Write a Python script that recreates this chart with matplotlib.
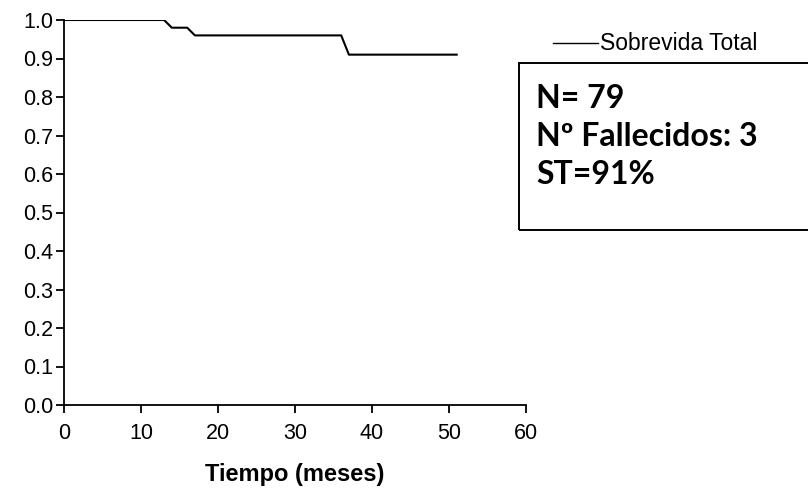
import matplotlib
matplotlib.use("Agg")
import matplotlib.pyplot as plt
from matplotlib.patches import Rectangle

# survival curve points (months, proportion)
months = [0, 13, 14, 16, 17, 36, 37, 51]
surv = [1.0, 1.0, 0.98, 0.98, 0.96, 0.96, 0.91, 0.91]
xticks = [0, 10, 20, 30, 40, 50, 60]
yticks = [0.0, 0.1, 0.2, 0.3, 0.4, 0.5, 0.6, 0.7, 0.8, 0.9, 1.0]
box_lines = ["N= 79", "Nº Fallecidos: 3", "ST=91%"]

sans = "Liberation Sans"

fig = plt.figure(figsize=(8.08, 5.0), dpi=100)
ax = fig.add_axes([64 / 808, 95 / 500, 462 / 808, 385 / 500])
ax.plot(months, surv, color="black", lw=1.5)
ax.set_xlim(0, 60); ax.set_ylim(0, 1.0)
ax.set_xticks(xticks); ax.set_yticks(yticks)
ax.set_xticklabels([str(t) for t in xticks], family=sans, fontsize=15.5)
ax.set_yticklabels([f"{t:.1f}" for t in yticks], family=sans, fontsize=15.5)
for s in ["top", "right"]:
    ax.spines[s].set_visible(False)
for s in ["left", "bottom"]:
    ax.spines[s].set_linewidth(1.3)
ax.tick_params(direction="out", length=6, width=1.3, pad=2)
ax.tick_params(axis="x", pad=7)
ax.set_xlabel("Tiempo (meses)", family=sans, fontsize=17, fontweight="bold", labelpad=14)

# legend
fig.add_artist(plt.Line2D([553 / 808, 598 / 808], [457 / 500, 457 / 500], color="black", lw=1.0))
fig.text(600 / 808, 457 / 500, "Sobrevida Total", family=sans, fontsize=16.5, va="center", ha="left")

# info box
fig.add_artist(Rectangle((519 / 808, 270 / 500), 300 / 808, 167 / 500, transform=fig.transFigure,
                         fill=False, edgecolor="black", lw=1.4, clip_on=False))
for i, t in enumerate(box_lines):
    fig.text(536 / 808, (402 - i * 38.5) / 500, t, family="Lato", fontsize=23, fontweight="bold",
             va="center", ha="left")

fig.savefig("out.png", dpi=100)
